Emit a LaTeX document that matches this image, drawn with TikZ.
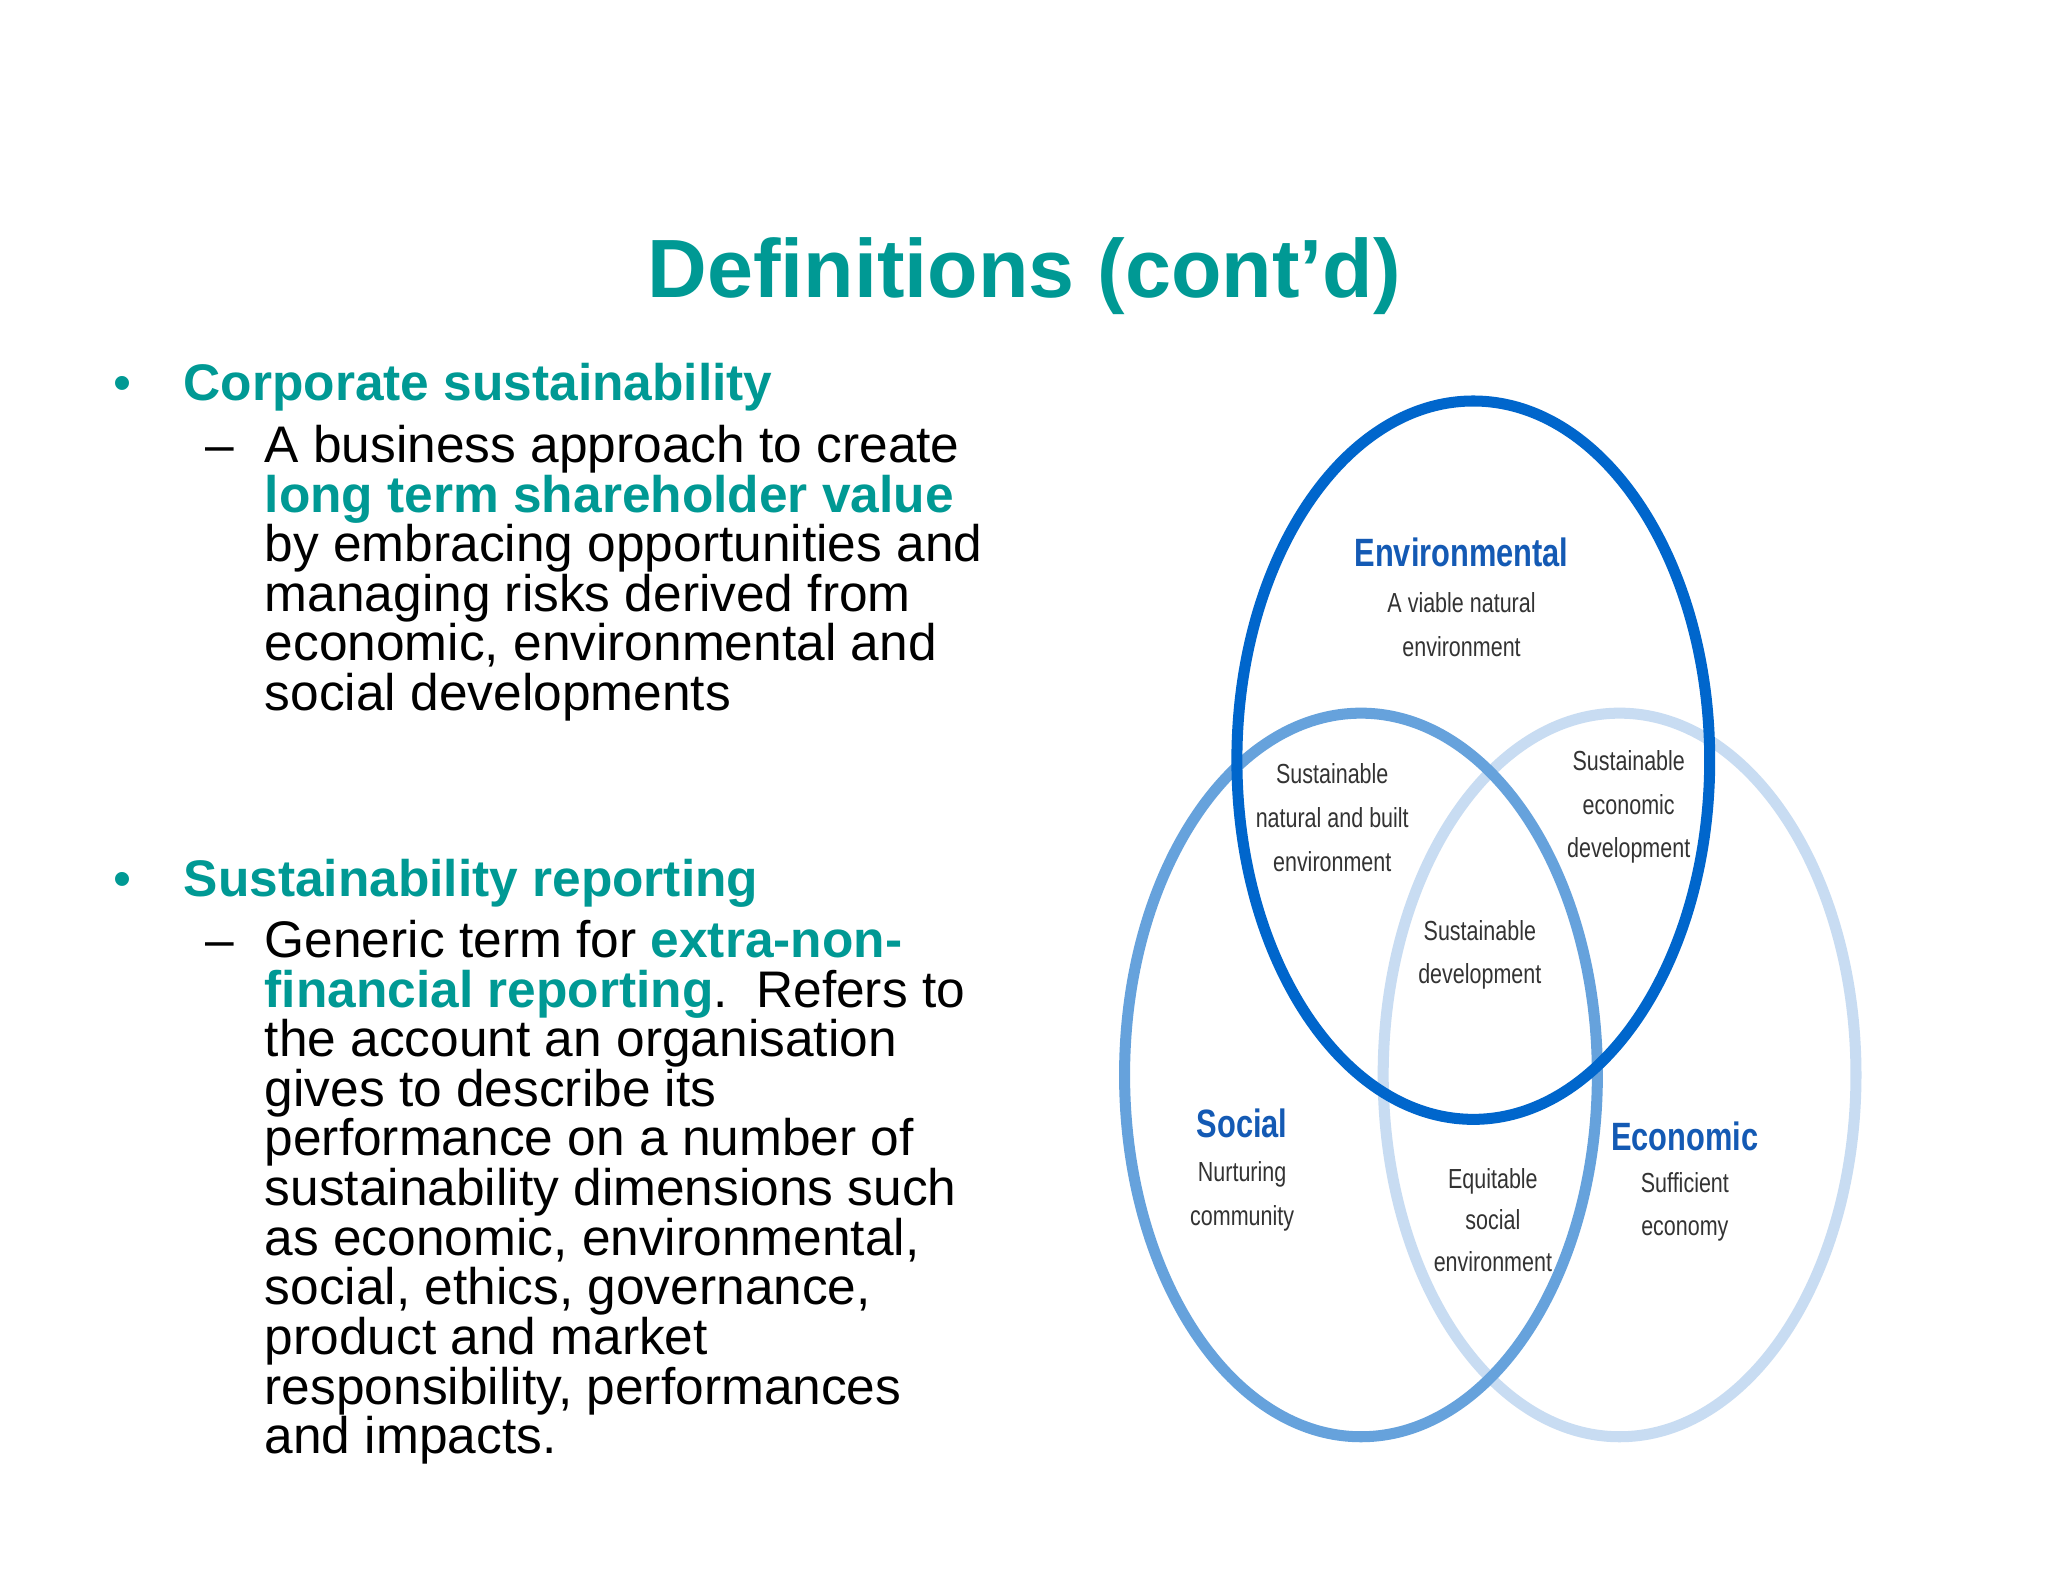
\documentclass[tikz,border=0pt]{standalone}
\usepackage{fontspec}
\setmainfont{Liberation Sans}
\newfontfamily\narrowf[FakeStretch=0.78]{Liberation Sans}
\definecolor{teal1}{RGB}{0,153,148}
\definecolor{envc}{RGB}{0,102,204}
\definecolor{socc}{RGB}{102,162,220}
\definecolor{ecoc}{RGB}{200,220,242}
\definecolor{lab}{RGB}{20,90,180}
\begin{document}
\begin{tikzpicture}[x=0.01cm,y=-0.01cm,
  body/.style={anchor=base west,inner sep=0,font=\fontsize{11.2}{13}\selectfont},
  head/.style={body,text=teal1,font=\fontsize{11.2}{13}\selectfont\bfseries},
  small/.style={inner sep=0,font=\narrowf\fontsize{6}{6.5}\selectfont,text=black!80,align=center},
  big/.style={inner sep=0,font=\narrowf\fontsize{8.6}{9}\selectfont\bfseries,text=lab}]
\useasboundingbox[fill=white] (0,0) rectangle (1568,1211);
\node[inner sep=0,anchor=base,text=teal1,font=\fontsize{18}{20}\selectfont\bfseries] (title) at (784,228) {Definitions (cont’d)};
% left text
\node[body,text=teal1] (b1) at (86,307) {•};
\node[head] (h1) at (140,307) {Corporate sustainability};
\node[body] (d1) at (157,354) {–};
\node[body] (l1) at (202,354) {A business approach to create};
\node[head] (l2) at (202,392) {long term shareholder value};
\node[body] (l3) at (202,430) {by embracing opportunities and};
\node[body] (l4) at (202,468) {managing risks derived from};
\node[body] (l5) at (202,506) {economic, environmental and};
\node[body] (l6) at (202,544) {social developments};
\node[body,text=teal1] (b2) at (86,686) {•};
\node[head] (h2) at (140,686) {Sustainability reporting};
\node[body] (d2) at (157,733) {–};
\node[body] (m1) at (202,733) {Generic term for \textcolor{teal1}{\bfseries extra-non-}};
\node[body] (m2) at (202,771) {\textcolor{teal1}{\bfseries financial reporting}.\ \ Refers to};
\node[body] (m3) at (202,809) {the account an organisation};
\node[body] (m4) at (202,847) {gives to describe its};
\node[body] (m5) at (202,885) {performance on a number of};
\node[body] (m6) at (202,923) {sustainability dimensions such};
\node[body] (m7) at (202,961) {as economic, environmental,};
\node[body] (m8) at (202,999) {social, ethics, governance,};
\node[body] (m9) at (202,1037) {product and market};
\node[body] (m10) at (202,1075) {responsibility, performances};
\node[body] (m11) at (202,1113) {and impacts.};
% circles
\draw[ecoc,line width=2.4pt] (1240,823) ellipse (181 and 277);
\draw[socc,line width=2.4pt] (1042,823) ellipse (181 and 277);
\draw[envc,line width=2.4pt] (1128,582) ellipse (181 and 275);
% labels
\node[big] (env) at (1119,423) {Environmental};
\node[small] (env2) at (1119,478) {A viable natural\\[3pt]environment};
\node[small] (snb) at (1020,626) {Sustainable\\[3pt]natural and built\\[3pt]environment};
\node[small] (sed) at (1247,618) {Sustainable\\[3pt]economic\\[3pt]development};
\node[small] (sd) at (1133,731) {Sustainable\\[3pt]development};
\node[big] (soc) at (951,860) {Social};
\node[small] (soc2) at (951,916) {Nurturing\\[3pt]community};
\node[big] (eco) at (1290,870) {Economic};
\node[small] (eco2) at (1290,924) {Sufficient\\[3pt]economy};
\node[small] (ese) at (1143,934) {Equitable\\[2.5pt]social\\[2.5pt]environment};
\end{tikzpicture}
\end{document}
